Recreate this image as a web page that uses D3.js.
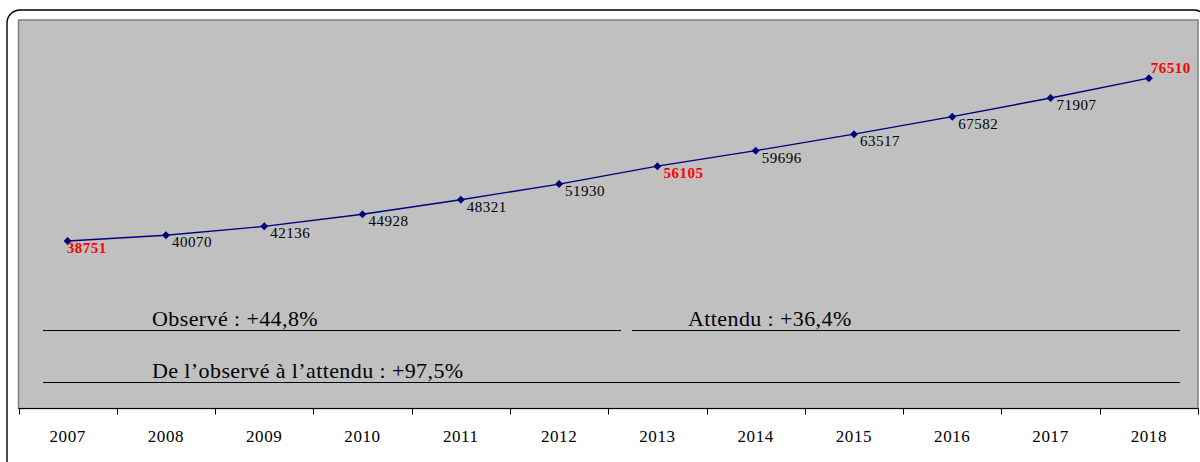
<!DOCTYPE html>
<html><head><meta charset="utf-8">
<script src="https://cdn.jsdelivr.net/npm/d3@7"></script>
<style>body{margin:0;background:#fff}svg{display:block}</style>
</head><body>
<svg id="c" width="1200" height="462"></svg>
<script>
const years = ["2007","2008","2009","2010","2011","2012","2013","2014","2015","2016","2017","2018"];
const values = [38751,40070,42136,44928,48321,51930,56105,59696,63517,67582,71907,76510];
const highlighted = ["2007","2013","2018"];
const annotations = [
  {text:"Observé : +44,8%", row:0, seg:0},
  {text:"Attendu : +36,4%", row:0, seg:1},
  {text:"De l\u2019observé à l\u2019attendu : +97,5%", row:1, seg:2}
];

const svg = d3.select("#c");
const font = "'Liberation Serif', 'Times New Roman', serif";
const L = 18.5, R = 1198, T = 20, B = 408.5;

// outer rounded frame
svg.append("rect").attr("x",7).attr("y",10).attr("width",1200).attr("height",470)
  .attr("rx",13).attr("fill","#fff").attr("stroke","#000").attr("stroke-width",1.4);

// plot area
svg.append("rect").attr("x",L).attr("y",T).attr("width",R-L).attr("height",B-T)
  .attr("fill","#c0c0c0").attr("stroke","#808080").attr("stroke-width",1.5);

const x = d3.scaleBand().domain(years).range([L,R]).padding(0);
const y = d3.scaleLinear().domain([0,90000]).range([408,T]);

// annotation segments
const segs = [[43,621],[632,1180],[43,1180]];
const rowY = [330.5,382.5];
annotations.forEach(a=>{
  const s = segs[a.seg];
  svg.append("line").attr("x1",s[0]).attr("x2",s[1]).attr("y1",rowY[a.row]).attr("y2",rowY[a.row])
    .attr("stroke","#000").attr("stroke-width",1.2);
  const tx = a.seg===1 ? 688 : 152;
  svg.append("text").attr("x",tx).attr("y",rowY[a.row]-4.5)
    .attr("font-family",font).attr("font-size",22).attr("letter-spacing",0.4)
    .attr("fill","#000").text(a.text);
});

// x axis
const ax = svg.append("g").attr("transform",`translate(0,${B})`);
ax.append("line").attr("x1",L).attr("x2",R).attr("stroke","#000").attr("stroke-width",1.2);
const bounds = years.map(d=>x(d)).concat([R]);
ax.selectAll("line.tick").data(bounds).join("line").attr("class","tick")
  .attr("x1",d=>Math.round(d)+0.5).attr("x2",d=>Math.round(d)+0.5).attr("y1",0).attr("y2",6)
  .attr("stroke","#000").attr("stroke-width",1);
ax.selectAll("text").data(years).join("text")
  .attr("x",d=>x(d)+x.bandwidth()/2).attr("y",33.5).attr("text-anchor","middle")
  .attr("font-family",font).attr("font-size",17).attr("letter-spacing",0.6)
  .attr("fill","#000").text(d=>d);

// line
const cx = d=>x(d)+x.bandwidth()/2;
const data = years.map((yr,i)=>({yr,v:values[i]}));
svg.append("path").datum(data)
  .attr("d",d3.line().x(d=>cx(d.yr)).y(d=>y(d.v)))
  .attr("fill","none").attr("stroke","#000080").attr("stroke-width",1.4);
svg.selectAll("path.m").data(data).join("path").attr("class","m")
  .attr("transform",d=>`translate(${cx(d.yr)},${y(d.v)})`)
  .attr("d","M0,-4L4,0L0,4L-4,0Z").attr("fill","#000080");

// labels
svg.selectAll("text.lab").data(data).join("text").attr("class","lab")
  .attr("x",(d,i)=> i===0 ? cx(d.yr)-1 : (i===data.length-1 ? cx(d.yr)+2 : cx(d.yr)+6))
  .attr("y",(d,i)=> i===data.length-1 ? y(d.v)-5 : y(d.v)+12)
  .attr("font-family",font).attr("font-size",15).attr("letter-spacing",0.5)
  .attr("font-weight",d=>highlighted.includes(d.yr)?"bold":"normal")
  .attr("fill",d=>highlighted.includes(d.yr)?"#ff0000":"#000")
  .text(d=>d.v);
</script>
</body></html>
